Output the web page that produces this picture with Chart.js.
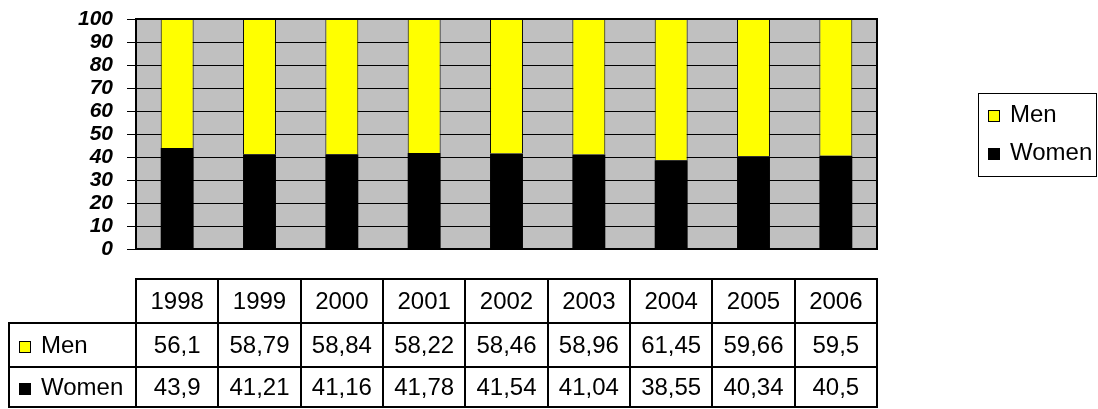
<!DOCTYPE html>
<html>
<head>
<meta charset="utf-8">
<script src="https://cdn.jsdelivr.net/npm/chart.js@4/dist/chart.umd.min.js"></script>
<style>
  html, body { margin: 0; padding: 0; background: #fff; }
  #wrap { width: 1098px; height: 409px; }
</style>
</head>
<body>
<div id="wrap"><canvas id="c" width="1098" height="409"></canvas></div>
<script>
// Share of men and women, in percent, by year
const years = ['1998', '1999', '2000', '2001', '2002', '2003', '2004', '2005', '2006'];
const men   = [56.1, 58.79, 58.84, 58.22, 58.46, 58.96, 61.45, 59.66, 59.5];
const women = [43.9, 41.21, 41.16, 41.78, 41.54, 41.04, 38.55, 40.34, 40.5];
const seriesNames = ['Men', 'Women'];

const TEXT_FONT = '24px "Liberation Sans", Arial, sans-serif';
const fmt = v => String(v).replace('.', ',');

// Gray plot background, frame, data table and legend
const decorations = {
  id: 'decorations',
  beforeDraw(chart) {
    const { ctx, chartArea: a } = chart;
    ctx.save();
    ctx.fillStyle = '#ffffff';
    ctx.fillRect(0, 0, chart.width, chart.height);
    ctx.fillStyle = '#c0c0c0';
    ctx.fillRect(a.left, a.top, a.right - a.left, a.bottom - a.top);
    ctx.restore();
  },
  afterDraw(chart) {
    const { ctx, chartArea: a } = chart;
    const xs = chart.scales.x;
    const n = years.length;
    const cw = (a.right - a.left) / n;

    ctx.save();
    // plot frame
    ctx.strokeStyle = '#000';
    ctx.lineWidth = 2;
    ctx.strokeRect(a.left, a.top, a.right - a.left, a.bottom - a.top);

    // data table
    const rows = [279, 323, 367, 407];
    const labelLeft = 9;
    ctx.lineWidth = 2;
    ctx.beginPath();
    ctx.moveTo(a.left - 1, rows[0]); ctx.lineTo(a.right + 1, rows[0]);
    for (let r = 1; r < rows.length; r++) {
      ctx.moveTo(labelLeft - 1, rows[r]); ctx.lineTo(a.right + 1, rows[r]);
    }
    ctx.moveTo(labelLeft, rows[1]); ctx.lineTo(labelLeft, rows[3]);
    for (let i = 0; i <= n; i++) {
      const x = Math.round(i < n ? xs.getPixelForValue(i) - cw / 2 : a.right);
      ctx.moveTo(x, rows[0]); ctx.lineTo(x, rows[3]);
    }
    ctx.stroke();

    ctx.font = TEXT_FONT;
    ctx.fillStyle = '#000';
    ctx.textAlign = 'center';
    ctx.textBaseline = 'middle';
    const rowMid = r => (rows[r] + rows[r + 1]) / 2 + 1;
    years.forEach((y, i) => {
      const cx = xs.getPixelForValue(i);
      ctx.fillText(y, cx, rowMid(0));
      ctx.fillText(fmt(men[i]), cx, rowMid(1));
      ctx.fillText(fmt(women[i]), cx, rowMid(2));
    });

    const ds = chart.data.datasets;
    const swatch = (x, yc, size, dset) => {
      ctx.fillStyle = dset.backgroundColor;
      ctx.fillRect(x, yc - size / 2, size, size);
      ctx.strokeStyle = '#000';
      ctx.lineWidth = 1;
      ctx.strokeRect(x + 0.5, yc - size / 2 + 0.5, size - 1, size - 1);
    };
    // row headers
    const menSet = ds.find(d => d.label === seriesNames[0]);
    const womenSet = ds.find(d => d.label === seriesNames[1]);
    ctx.textAlign = 'left';
    [[menSet, 1], [womenSet, 2]].forEach(([d, r]) => {
      const yc = rowMid(r);
      swatch(19, yc + 1, 12, d);
      ctx.fillStyle = '#000';
      ctx.fillText(d.label, 41, yc);
    });

    // legend
    ctx.lineWidth = 1;
    ctx.strokeStyle = '#000';
    ctx.strokeRect(978.5, 93.5, 118, 83);
    [[menSet, 115], [womenSet, 153]].forEach(([d, yc]) => {
      swatch(988, yc + 1, 12, d);
      ctx.fillStyle = '#000';
      ctx.fillText(d.label, 1010, yc);
    });
    ctx.restore();
  }
};

new Chart(document.getElementById('c'), {
  type: 'bar',
  data: {
    labels: years,
    datasets: [
      {
        label: seriesNames[1],
        data: women,
        backgroundColor: '#000000',
        borderColor: '#000000',
        borderWidth: 0,
        barPercentage: 0.4,
        categoryPercentage: 1.0
      },
      {
        label: seriesNames[0],
        data: men,
        backgroundColor: '#ffff00',
        borderColor: '#000000',
        borderWidth: 1,
        barPercentage: 0.4,
        categoryPercentage: 1.0
      }
    ]
  },
  options: {
    responsive: false,
    devicePixelRatio: 1,
    animation: false,
    layout: { padding: { left: 0, top: 19, right: 221, bottom: 160 } },
    plugins: {
      legend: { display: false },
      tooltip: { enabled: false }
    },
    scales: {
      x: {
        stacked: true,
        display: false
      },
      y: {
        stacked: true,
        min: 0,
        max: 100,
        ticks: {
          stepSize: 10,
          autoSkip: false,
          color: '#000',
          padding: 14,
          font: { family: '"Liberation Sans", Arial, sans-serif', size: 21, style: 'italic', weight: 'bold' }
        },
        grid: {
          color: '#000',
          lineWidth: 1,
          tickLength: 9,
          drawOnChartArea: true
        },
        border: { display: false },
        afterFit(scale) {
          scale.width = 136;
          scale.paddingTop = 0;
          scale.paddingBottom = 0;
        }
      }
    }
  },
  plugins: [decorations]
});
</script>
</body>
</html>
